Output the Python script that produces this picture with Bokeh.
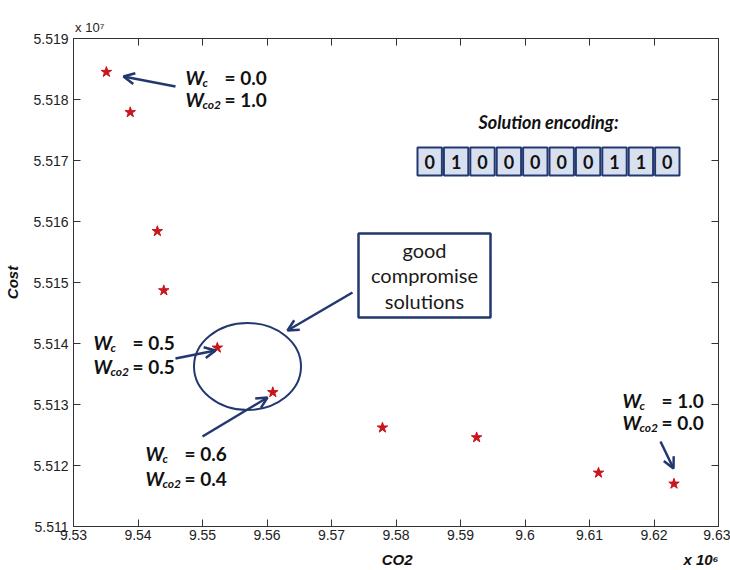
from bokeh.plotting import figure
from bokeh.models import (Label, Arrow, OpenHead, BoxAnnotation, LinearAxis,
                          FixedTicker, CustomJSTickFormatter, Range1d)
from bokeh.embed import file_html
from bokeh.resources import INLINE

# ---- data ----
co2 = [9.5351, 9.5388, 9.5430, 9.5440, 9.5523, 9.5609, 9.5779, 9.5925, 9.6114, 9.6231]   # x 10^6
cost = [5.51845, 5.51779, 5.51584, 5.51487, 5.51393, 5.51320, 5.51262, 5.51246, 5.51188, 5.51170]  # x 10^7
x_ticks = [9.53, 9.54, 9.55, 9.56, 9.57, 9.58, 9.59, 9.60, 9.61, 9.62, 9.63]
y_ticks = [5.511, 5.512, 5.513, 5.514, 5.515, 5.516, 5.517, 5.518, 5.519]
encoding_bits = [0, 1, 0, 0, 0, 0, 0, 1, 1, 0]
weights = [("0.0", "1.0"), ("0.5", "0.5"), ("0.6", "0.4"), ("1.0", "0.0")]
x_title = "CO2"
x_mult = "x 10\u2076"
y_title = "Cost"
y_mult = "x 10\u2077"

X0, X1 = 9.53, 9.63
Y0, Y1 = 5.511, 5.519
# frame in pixels
L, T, R, B = 73, 38, 718, 526
NB = "\u00a0"


def dx(px):
    return X0 + (px - L) / (R - L) * (X1 - X0)


def dy(py):
    return Y1 - (py - T) / (B - T) * (Y1 - Y0)


def dw(w):
    return w / (R - L) * (X1 - X0)


def dh(h):
    return h / (B - T) * (Y1 - Y0)


NAVY = "#22386e"
AXC = "#333333"
TICKFONT = "Liberation Sans"
ANNFONT = "Lato"

p = figure(width=730, height=570, x_range=Range1d(X0, X1), y_range=Range1d(Y0, Y1),
           output_backend="svg", toolbar_location=None,
           min_border_left=L, min_border_right=730 - R, min_border_top=T,
           min_border_bottom=570 - B)
p.grid.visible = False
p.outline_line_color = AXC
p.background_fill_color = "white"
p.border_fill_color = "white"

xfmt = CustomJSTickFormatter(code="return String(Number(tick.toFixed(2)));")
yfmt = CustomJSTickFormatter(code="return tick.toFixed(3);")

for ax, tk, fmt in ((p.xaxis[0], x_ticks, xfmt), (p.yaxis[0], y_ticks, yfmt)):
    ax.ticker = FixedTicker(ticks=tk)
    ax.formatter = fmt
    ax.major_tick_in = 7
    ax.major_tick_out = 0
    ax.minor_tick_line_color = None
    ax.axis_line_color = AXC
    ax.major_tick_line_color = AXC
    ax.major_label_text_font = TICKFONT
    ax.major_label_text_font_size = "14px"
    ax.major_label_text_color = "#222222"
    ax.axis_label_text_font = TICKFONT
    ax.axis_label_text_font_size = "15px"
    ax.axis_label_text_font_style = "bold italic"
    ax.axis_label_text_color = "#111111"

xa = p.xaxis[0]
xa.major_label_standoff = 3
xa.axis_label_standoff = 8
# centred label: left padding balances the multiplier that sits at the right end
xa.axis_label = NB * 74 + x_title + NB * 65 + x_mult
ya = p.yaxis[0]
ya.axis_label = y_title
ya.major_label_standoff = 5
ya.axis_label_standoff = 9

blank = CustomJSTickFormatter(code="return '';")
top = LinearAxis(ticker=FixedTicker(ticks=x_ticks), formatter=blank, major_tick_in=7,
                 major_tick_out=0, minor_tick_line_color=None, axis_line_color=AXC,
                 major_tick_line_color=AXC, major_label_standoff=0,
                 major_label_text_font_size="1px",
                 axis_label=NB * 9 + y_mult, axis_label_align="start",
                 axis_label_standoff=4, axis_label_text_font=TICKFONT,
                 axis_label_text_font_size="13px", axis_label_text_font_style="normal",
                 axis_label_text_color="#222222")
right = LinearAxis(ticker=FixedTicker(ticks=y_ticks), formatter=blank, major_tick_in=7,
                   major_tick_out=0, minor_tick_line_color=None, axis_line_color=AXC,
                   major_tick_line_color=AXC, major_label_standoff=0,
                   major_label_text_font_size="1px")
p.add_layout(top, "above")
p.add_layout(right, "right")

# data points
p.scatter(co2, cost, marker="star", size=11, line_width=1, color="#c8161d")


def txt(x, y, text, size, style="normal", font=ANNFONT, align="left", color="#111111"):
    p.add_layout(Label(x=dx(x), y=dy(y), text=text, text_font=font,
                       text_font_size=f"{size}px", text_font_style=style,
                       text_align=align, text_baseline="middle", text_color=color))


def arrow(x1, y1, x2, y2):
    p.add_layout(Arrow(end=OpenHead(size=11, line_color=NAVY, line_width=2.5),
                       x_start=dx(x1), y_start=dy(y1), x_end=dx(x2), y_end=dy(y2),
                       line_color=NAVY, line_width=2.5))


def wlabel(x0, ya_, yb_, va, vb):
    for yy, sub, v in ((ya_, "c", va), (yb_, "co2", vb)):
        txt(x0, yy, "W", 19, "bold italic")
        txt(x0 + 17, yy + 5, sub, 12, "bold italic")
        txt(x0 + 39, yy, "= " + v, 19, "bold")


wlabel(185, 77, 99, *weights[0])
arrow(175, 86, 123, 76)
wlabel(93, 342, 366, *weights[1])
arrow(175, 358, 215, 350)
wlabel(145, 453, 478, *weights[2])
arrow(202, 436, 267, 397)
wlabel(622, 400, 422, *weights[3])
arrow(660, 441, 673, 468)

# good compromise box, arrow and ellipse
p.add_layout(BoxAnnotation(left=dx(358), right=dx(490), top=dy(233), bottom=dy(317),
                           fill_alpha=0, line_color=NAVY, line_alpha=1, line_width=2.5))
for i, line in enumerate(["good", "compromise", "solutions"]):
    txt(424, 249 + 25.5 * i, line, 20, "normal", align="center", color="#1a1a1a")
arrow(352, 292, 287, 330)
p.ellipse(x=dx(247), y=dy(366), width=dw(107), height=dh(87), fill_alpha=0,
          line_color=NAVY, line_width=2)

# solution encoding
txt(548, 121, "Solution encoding:", 18, "bold italic", align="center")
cw = (680 - 416) / len(encoding_bits)
lefts = [dx(416 + i * cw + 1) for i in range(len(encoding_bits))]
rights = [dx(416 + (i + 1) * cw - 1) for i in range(len(encoding_bits))]
p.quad(left=lefts, right=rights, top=dy(147), bottom=dy(175),
       fill_color="#d8e0f0", line_color=NAVY, line_width=2)
for i, b in enumerate(encoding_bits):
    txt(416 + (i + 0.5) * cw, 161.5, str(b), 18, "bold", align="center")

open("out.html", "w").write(file_html(p, INLINE))
